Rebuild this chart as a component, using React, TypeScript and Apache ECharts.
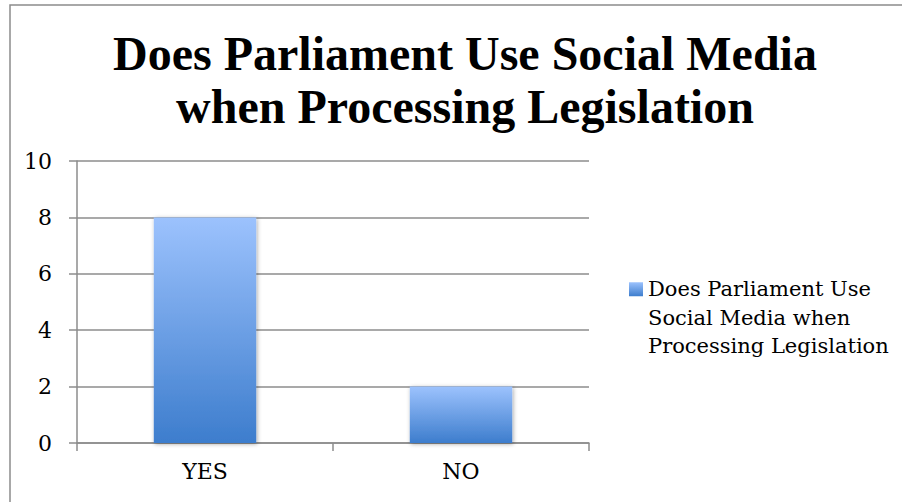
import React, { useEffect, useRef } from "react";
import * as echarts from "echarts";

const categories = ["YES", "NO"];
const seriesName = "Does Parliament Use Social Media when Processing Legislation";
const values = [8, 2];
const yTicks = { min: 0, max: 10, interval: 2 };
const titleText = "Does Parliament Use Social Media\nwhen Processing Legislation";
const legendLines = ["Does Parliament Use", "Social Media when", "Processing Legislation"];

export default function App() {
  const ref = useRef<HTMLDivElement>(null);
  useEffect(() => {
    const chart = echarts.init(ref.current!, null, { renderer: "svg" });
    const gradient = new echarts.graphic.LinearGradient(0, 0, 0, 1, [
      { offset: 0, color: "#9cc2fd" },
      { offset: 1, color: "#3d7dcd" },
    ]);
    const serif = "DejaVu Serif";
    chart.setOption({
      animation: false,
      backgroundColor: "#ffffff",
      title: {
        text: titleText,
        left: 460,
        textAlign: "center",
        top: 22,
        textStyle: {
          fontFamily: "Liberation Serif",
          fontWeight: "bold",
          fontSize: 48,
          lineHeight: 53,
          color: "#000",
        },
      },
      graphic: [
        {
          type: "rect",
          shape: { x: 10, y: 5, width: 1000, height: 1000 },
          style: { fill: "none", stroke: "#8c8c8c", lineWidth: 1.5 },
          silent: true,
        },
      ],
      legend: {
        left: 629,
        top: 218,
        padding: 0,
        orient: "vertical",
        icon: "rect",
        itemWidth: 14,
        itemHeight: 14,
        itemGap: 5,
        formatter: () => " \n \n" + legendLines.join("\n"),
        textStyle: {
          fontFamily: serif,
          fontSize: 21,
          lineHeight: 28.5,
          color: "#000",
        },
      },
      grid: { left: 77, right: 313, top: 161, bottom: 59, containLabel: false },
      xAxis: {
        type: "category",
        data: categories,
        axisLine: { show: true, lineStyle: { color: "#8c8c8c", width: 1.5 } },
        axisTick: { show: true, length: 8, lineStyle: { color: "#8c8c8c", width: 1.5 } },
        axisLabel: { fontFamily: serif, fontSize: 22, color: "#000", margin: 17 },
        splitLine: { show: false },
      },
      yAxis: {
        type: "value",
        min: yTicks.min,
        max: yTicks.max,
        interval: yTicks.interval,
        axisLine: { show: true, lineStyle: { color: "#8c8c8c", width: 1.5 } },
        axisTick: { show: true, length: 8, lineStyle: { color: "#8c8c8c", width: 1.5 } },
        axisLabel: { fontFamily: serif, fontSize: 22, color: "#000", margin: 25 },
        splitLine: { show: true, lineStyle: { color: "#8c8c8c", width: 1.5 } },
      },
      series: [
        {
          name: seriesName,
          type: "bar",
          data: values,
          barWidth: "40%",
          itemStyle: {
            color: gradient,
            shadowBlur: 4,
            shadowColor: "rgba(0,0,0,0.35)",
            shadowOffsetX: 1,
            shadowOffsetY: 1,
          },
        },
      ],
    });
    return () => chart.dispose();
  }, []);
  return (
    <div
      ref={ref}
      style={{ position: "fixed", left: 0, top: 0, width: 902, height: 502 }}
    />
  );
}
